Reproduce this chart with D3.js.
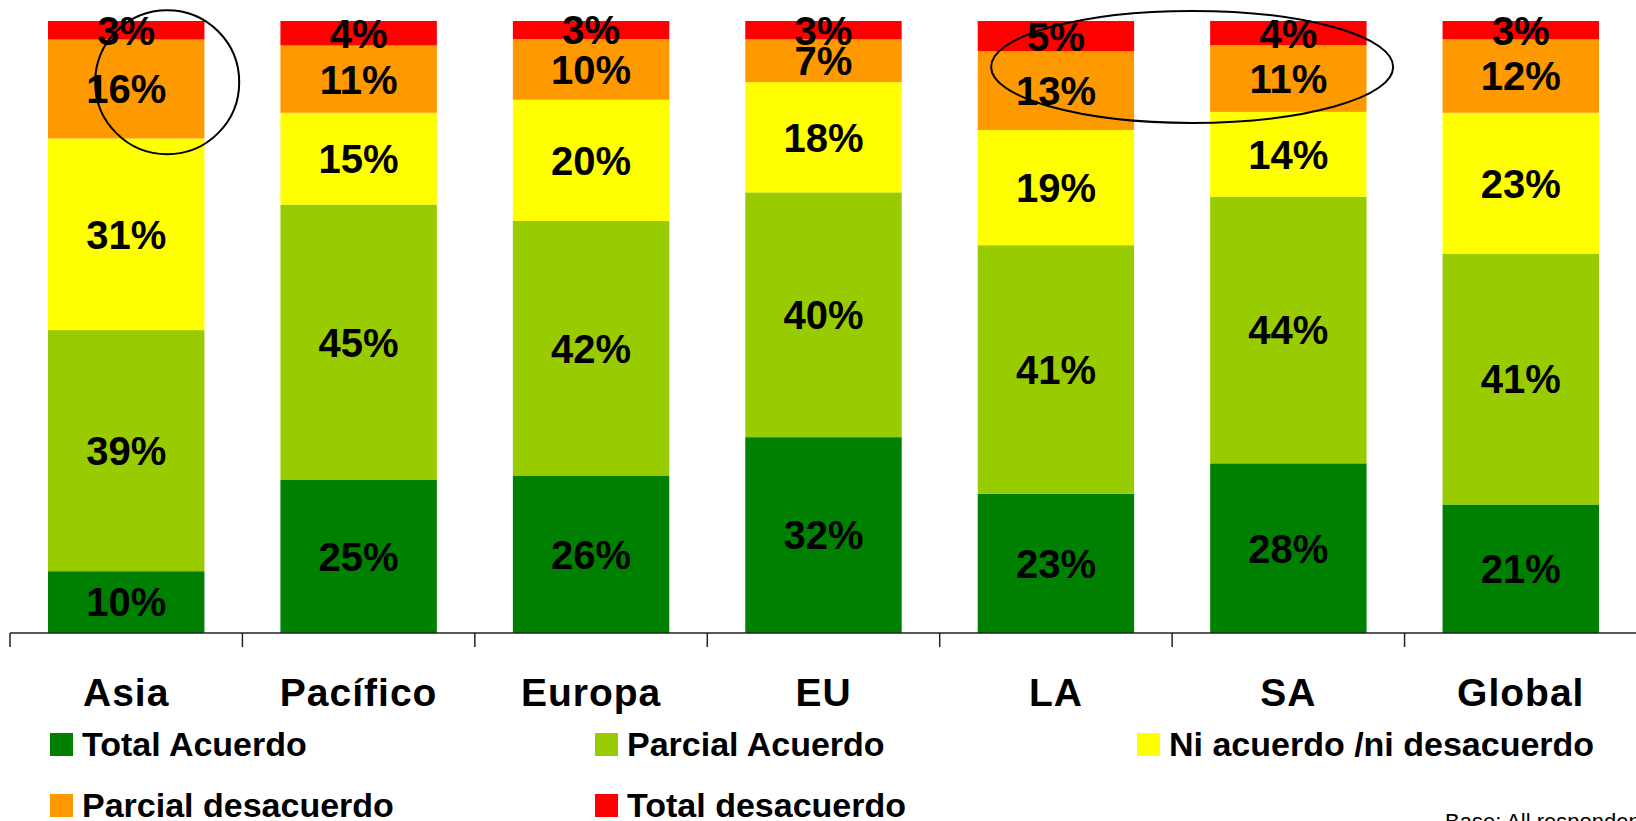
<!DOCTYPE html>
<html>
<head>
<meta charset="utf-8">
<script src="https://cdn.jsdelivr.net/npm/d3@7"></script>
<style>
  body { margin: 0; background: #fff; }
  svg { display: block; font-family: "Liberation Sans", Arial, sans-serif; }
  .val { font-weight: bold; font-size: 40px; fill: #000; text-anchor: middle; }
  .cat { font-weight: bold; font-size: 39px; fill: #000; text-anchor: middle; letter-spacing: 1px; }
  .leg { font-weight: bold; font-size: 34px; fill: #000; }
</style>
</head>
<body>
<svg id="chart"></svg>
<script>
// regions on the x-axis
var regions = ["Asia", "Pacífico", "Europa", "EU", "LA", "SA", "Global"];

// answer categories, bottom to top
var answers = ["Total Acuerdo", "Parcial Acuerdo", "Ni acuerdo /ni desacuerdo", "Parcial desacuerdo", "Total desacuerdo"];
var colors = ["#008000", "#99cc00", "#ffff00", "#ff9900", "#ff0000"];

// percentages per answer, one value per region
var totalAcuerdo     = [10, 25, 26, 32, 23, 28, 21];
var parcialAcuerdo   = [39, 45, 42, 40, 41, 44, 41];
var niAcuerdo        = [31, 15, 20, 18, 19, 14, 23];
var parcialDesac     = [16, 11, 10,  7, 13, 11, 12];
var totalDesacuerdo  = [ 3,  4,  3,  3,  5,  4,  3];

var series = [totalAcuerdo, parcialAcuerdo, niAcuerdo, parcialDesac, totalDesacuerdo];

var width = 1636, height = 821;

var svg = d3.select("#chart")
    .attr("width", width)
    .attr("height", height);

// build rows for the stack
var rows = regions.map(function(r, i) {
  var row = {region: r};
  answers.forEach(function(a, j) { row[a] = series[j][i]; });
  return row;
});

var stack = d3.stack()
    .keys(answers)
    .offset(d3.stackOffsetExpand);
var layers = stack(rows);

var x = d3.scaleBand()
    .domain(regions)
    .range([10, 1637])
    .paddingInner(0.327)
    .paddingOuter(0.1635);

var y = d3.scaleLinear()
    .domain([0, 1])
    .range([633, 21]);

var color = d3.scaleOrdinal().domain(answers).range(colors);

// bars
var layer = svg.selectAll("g.layer")
    .data(layers)
  .enter().append("g")
    .attr("class", "layer")
    .attr("fill", function(d) { return color(d.key); });

layer.selectAll("rect")
    .data(function(d) { return d; })
  .enter().append("rect")
    .attr("x", function(d) { return x(d.data.region); })
    .attr("width", x.bandwidth())
    .attr("y", function(d) { return y(d[1]); })
    .attr("height", function(d) { return y(d[0]) - y(d[1]); });

// value labels
layers.forEach(function(l) {
  svg.append("g").selectAll("text")
      .data(l)
    .enter().append("text")
      .attr("class", "val")
      .attr("x", function(d) { return x(d.data.region) + x.bandwidth() / 2; })
      .attr("y", function(d) { return (y(d[0]) + y(d[1])) / 2; })
      .attr("dy", "0.36em")
      .text(function(d) { return d.data[l.key] + "%"; });
});

// x-axis: line with ticks between the categories
var axis = svg.append("g")
    .attr("transform", "translate(0," + y(0) + ")");

axis.append("line")
    .attr("x1", x.range()[0])
    .attr("x2", x.range()[1])
    .attr("stroke", "#222")
    .attr("stroke-width", 1.5);

axis.selectAll("line.tick")
    .data(d3.range(regions.length + 1))
  .enter().append("line")
    .attr("class", "tick")
    .attr("x1", function(i) { return x.range()[0] + i * x.step(); })
    .attr("x2", function(i) { return x.range()[0] + i * x.step(); })
    .attr("y1", 0)
    .attr("y2", 14)
    .attr("stroke", "#222")
    .attr("stroke-width", 1.5);

axis.selectAll("text")
    .data(regions)
  .enter().append("text")
    .attr("class", "cat")
    .attr("x", function(d) { return x(d) + x.bandwidth() / 2; })
    .attr("y", 73)
    .text(function(d) { return d; });

// legend
var legendPos = [[50, 756], [595, 756], [1137, 756], [50, 817], [595, 817]];
var legend = svg.selectAll("g.legend")
    .data(answers)
  .enter().append("g")
    .attr("class", "legend")
    .attr("transform", function(d, i) { return "translate(" + legendPos[i][0] + "," + legendPos[i][1] + ")"; });

legend.append("rect")
    .attr("x", 0)
    .attr("y", -23)
    .attr("width", 23)
    .attr("height", 23)
    .attr("fill", function(d) { return color(d); });

legend.append("text")
    .attr("class", "leg")
    .attr("x", 32)
    .attr("y", 0)
    .text(function(d) { return d; });

// hand drawn annotations
var asiaMid = x("Asia") + x.bandwidth() / 2;
svg.append("circle")
    .attr("cx", asiaMid + 41)
    .attr("cy", y(0.9))
    .attr("r", 72)
    .attr("fill", "none")
    .attr("stroke", "#000")
    .attr("stroke-width", 2);

var laMid = x("LA") + x.bandwidth() / 2, saMid = x("SA") + x.bandwidth() / 2;
svg.append("ellipse")
    .attr("cx", (laMid + saMid) / 2 + 20)
    .attr("cy", y(0.925))
    .attr("rx", 201)
    .attr("ry", 56)
    .attr("fill", "none")
    .attr("stroke", "#000")
    .attr("stroke-width", 2);

// source note, partly cut off at the bottom
svg.append("text")
    .attr("x", 1445)
    .attr("y", 829)
    .style("font-size", "22px")
    .text("Base: All respondents");
</script>
</body>
</html>
